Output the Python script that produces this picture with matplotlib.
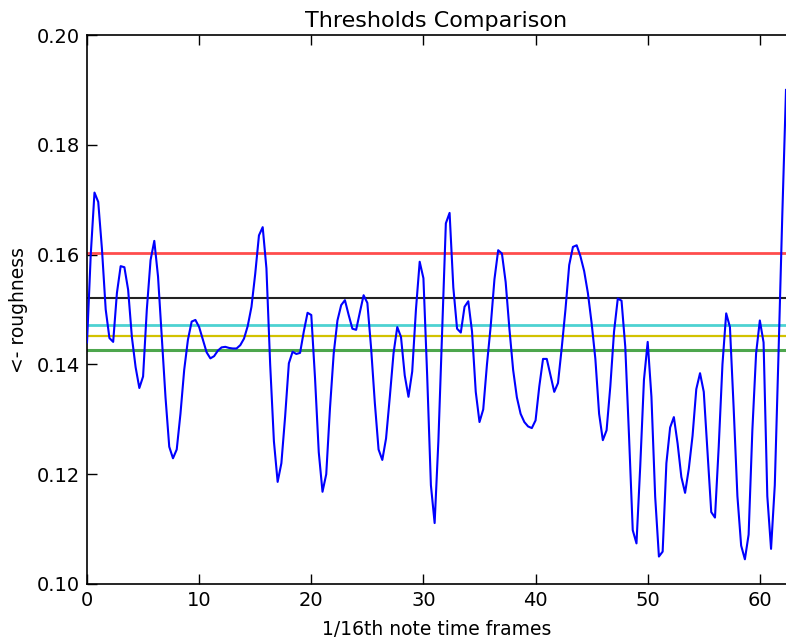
import numpy as np
import matplotlib
matplotlib.use("Agg")
import matplotlib.pyplot as plt

# roughness values, three samples per 1/16th note frame
roughness = [
    0.1440, 0.1600, 0.1713,
    0.1696, 0.1610, 0.1500,
    0.1448, 0.1441, 0.1530,
    0.1579, 0.1577, 0.1536,
    0.1450, 0.1395, 0.1357,
    0.1378, 0.1500, 0.1590,
    0.1625, 0.1560, 0.1450,
    0.1340, 0.1250, 0.1229,
    0.1245, 0.1310, 0.1390,
    0.1445, 0.1478, 0.1481,
    0.1468, 0.1445, 0.1422,
    0.1411, 0.1415, 0.1425,
    0.1431, 0.1432, 0.1430,
    0.1429, 0.1429, 0.1435,
    0.1447, 0.1470, 0.1505,
    0.1565, 0.1635, 0.1650,
    0.1575, 0.1400, 0.1260,
    0.1186, 0.1220, 0.1305,
    0.1402, 0.1423, 0.1419,
    0.1421, 0.1460, 0.1494,
    0.1490, 0.1375, 0.1240,
    0.1168, 0.1200, 0.1320,
    0.1420, 0.1480, 0.1508,
    0.1517, 0.1490, 0.1465,
    0.1463, 0.1495, 0.1526,
    0.1512, 0.1430, 0.1330,
    0.1245, 0.1226, 0.1265,
    0.1340, 0.1420, 0.1468,
    0.1450, 0.1380, 0.1341,
    0.1387, 0.1500, 0.1587,
    0.1557, 0.1380, 0.1180,
    0.1111, 0.1260, 0.1460,
    0.1657, 0.1676, 0.1540,
    0.1465, 0.1458, 0.1505,
    0.1515, 0.1460, 0.1350,
    0.1295, 0.1318, 0.1400,
    0.1470, 0.1555, 0.1608,
    0.1602, 0.1550, 0.1465,
    0.1390, 0.1340, 0.1310,
    0.1295, 0.1287, 0.1284,
    0.1298, 0.1360, 0.1410,
    0.1410, 0.1380, 0.1350,
    0.1366, 0.1430, 0.1500,
    0.1581, 0.1614, 0.1617,
    0.1597, 0.1570, 0.1530,
    0.1475, 0.1410, 0.1310,
    0.1262, 0.1280, 0.1360,
    0.1460, 0.1520, 0.1516,
    0.1432, 0.1270, 0.1098,
    0.1074, 0.1214, 0.1372,
    0.1441, 0.1341, 0.1159,
    0.1050, 0.1059, 0.1220,
    0.1285, 0.1304, 0.1256,
    0.1195, 0.1166, 0.1210,
    0.1270, 0.1355, 0.1384,
    0.1350, 0.1240, 0.1131,
    0.1121, 0.1250, 0.1400,
    0.1493, 0.1468, 0.1320,
    0.1160, 0.1070, 0.1045,
    0.1090, 0.1280, 0.1420,
    0.1480, 0.1440, 0.1160,
    0.1064, 0.1180, 0.1420,
    0.1670, 0.1900,
]
samples_per_frame = 3

threshold_values = [0.1603, 0.1521, 0.1472, 0.1452, 0.1427]
threshold_colors = ["#ff4d4d", "#222222", "#4dd2d2", "#d2c200", "#4da64d"]
threshold_widths = [2.0, 1.5, 2.0, 1.6, 2.2]

x = np.arange(len(roughness)) / samples_per_frame

fig = plt.figure(figsize=(7.86, 6.40), dpi=100)
ax = fig.add_axes([0.1107, 0.0875, 0.8893, 0.8578])

ax.plot(x, roughness, color="b", lw=1.5, zorder=3)
for val, col, w in zip(threshold_values, threshold_colors, threshold_widths):
    ax.axhline(val, color=col, lw=w, zorder=2)

ax.set_xlim(0, x[-1])
ax.set_ylim(0.10, 0.20)
ax.set_yticks([0.10, 0.12, 0.14, 0.16, 0.18, 0.20])
ax.set_xticks([0, 10, 20, 30, 40, 50, 60])
ax.yaxis.set_major_formatter(matplotlib.ticker.FormatStrFormatter("%.2f"))
ax.tick_params(direction="in", top=True, right=False, length=7, width=1,
               labelsize=14, pad=5)
for s in ax.spines.values():
    s.set_linewidth(1.2)
ax.spines["right"].set_visible(False)

ax.set_title("Thresholds Comparison", fontsize=16, pad=6)
ax.set_xlabel("1/16th note time frames", fontsize=13.5, labelpad=7)
ax.set_ylabel("<- roughness", fontsize=13.5, labelpad=6)

fig.savefig("out.png", dpi=100)
